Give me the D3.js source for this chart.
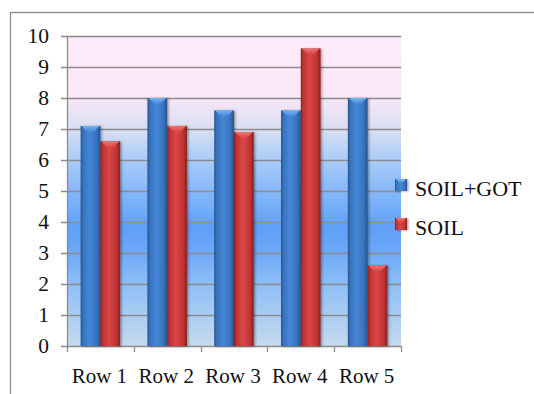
<!DOCTYPE html>
<html>
<head>
<meta charset="utf-8">
<script src="https://cdn.jsdelivr.net/npm/d3@7"></script>
<style>
  html, body { margin: 0; padding: 0; background: #fff; }
  svg { display: block; }
</style>
</head>
<body>
<svg id="chart" width="534" height="394"></svg>
<script>
// Chart data
const categories = ["Row 1", "Row 2", "Row 3", "Row 4", "Row 5"];
const seriesNames = ["SOIL+GOT", "SOIL"];
const soilGot = [7.1, 8, 7.6, 7.6, 8];
const soil = [6.6, 7.1, 6.9, 9.6, 2.6];
const yTicks = [0, 1, 2, 3, 4, 5, 6, 7, 8, 9, 10];

const seriesValues = [soilGot, soil];
const palette = {
  "SOIL+GOT": { dark: "#24528c", mid: "#3872be", light: "#4587d6", cap: "#7cbaf4" },
  "SOIL":     { dark: "#8a1e1e", mid: "#c03333", light: "#d94646", cap: "#f27a78" }
};
const FONT = "'Liberation Serif', 'Times New Roman', serif";

const svg = d3.select("#chart");
const defs = svg.append("defs");

// Outer frame (only the top and left edges fall inside the window)
svg.append("rect")
  .attr("x", 10.5).attr("y", 12.5)
  .attr("width", 700).attr("height", 600)
  .attr("fill", "none").attr("stroke", "#8a8a8a").attr("stroke-width", 1.3);

const plot = { left: 67, right: 401, top: 36, bottom: 346 };

const x0 = d3.scaleBand().domain(categories).range([plot.left, plot.right]).padding(0);
const x1 = d3.scaleBand().domain(seriesNames).range([0, x0.bandwidth()])
  .paddingInner(0).paddingOuter(0.69);
const y = d3.scaleLinear().domain([0, 10]).range([plot.bottom, plot.top]);

// Plot background gradient
const bg = defs.append("linearGradient").attr("id", "bg")
  .attr("x1", 0).attr("y1", 0).attr("x2", 0).attr("y2", 1);
[[0, "#fdeafa"], [0.19, "#fbe7f8"], [0.3, "#d9dff2"], [0.4, "#a9ccf8"],
 [0.5, "#86b8f9"], [0.62, "#5f9ff7"], [0.7, "#6ea9f8"], [0.8, "#8ebef7"],
 [0.9, "#a9cdf3"], [1, "#c6d9ee"]].forEach(([o, c]) =>
  bg.append("stop").attr("offset", o).attr("stop-color", c));

svg.append("rect")
  .attr("x", plot.left).attr("y", plot.top)
  .attr("width", plot.right - plot.left).attr("height", plot.bottom - plot.top)
  .attr("fill", "url(#bg)");

// Horizontal gridlines with left tick marks
svg.append("g").selectAll("line").data(yTicks).join("line")
  .attr("x1", plot.left - 6).attr("x2", plot.right)
  .attr("y1", d => Math.round(y(d)) + 0.5).attr("y2", d => Math.round(y(d)) + 0.5)
  .attr("stroke", "#8c8c8c").attr("stroke-width", 1.3);

// Y axis labels
svg.append("g").selectAll("text").data(yTicks).join("text")
  .attr("x", 49).attr("y", d => y(d))
  .attr("dy", "0.34em")
  .attr("text-anchor", "end")
  .attr("font-family", FONT)
  .attr("font-size", 21.5)
  .attr("fill", "#111")
  .text(d => d);

// Axis lines
svg.append("line")
  .attr("x1", plot.left + 0.5).attr("x2", plot.left + 0.5)
  .attr("y1", plot.top).attr("y2", plot.bottom)
  .attr("stroke", "#8c8c8c").attr("stroke-width", 1.3);

const catEdges = categories.map(c => x0(c)).concat([plot.right]);
svg.append("g").selectAll("line").data(catEdges).join("line")
  .attr("x1", d => Math.round(d) + 0.5).attr("x2", d => Math.round(d) + 0.5)
  .attr("y1", plot.bottom).attr("y2", plot.bottom + 6)
  .attr("stroke", "#8c8c8c").attr("stroke-width", 1.3);

// Cylinder-like shading for each series
seriesNames.forEach((s, i) => {
  const p = palette[s];
  const g = defs.append("linearGradient").attr("id", "bar" + i)
    .attr("x1", 0).attr("y1", 0).attr("x2", 1).attr("y2", 0);
  [[0, p.dark], [0.12, p.mid], [0.45, p.light], [0.82, p.mid], [1, p.dark]]
    .forEach(([o, c]) => g.append("stop").attr("offset", o).attr("stop-color", c));
  const cg = defs.append("linearGradient").attr("id", "cap" + i)
    .attr("x1", 0).attr("y1", 0).attr("x2", 0).attr("y2", 1);
  cg.append("stop").attr("offset", 0).attr("stop-color", p.cap);
  cg.append("stop").attr("offset", 1).attr("stop-color", p.light);
});

const shadow = defs.append("filter").attr("id", "shadow")
  .attr("x", "-30%").attr("y", "-10%").attr("width", "160%").attr("height", "120%");
shadow.append("feDropShadow").attr("dx", 1.5).attr("dy", 0.5)
  .attr("stdDeviation", 1.2).attr("flood-color", "#000").attr("flood-opacity", 0.35);

// Bars
const groups = svg.append("g").selectAll("g").data(categories).join("g")
  .attr("transform", c => `translate(${x0(c)},0)`);

groups.each(function(c, ci) {
  const g = d3.select(this);
  seriesNames.forEach((s, si) => {
    const v = seriesValues[si][ci];
    const bx = x1(s), bw = x1.bandwidth();
    const top = y(v);
    g.append("rect")
      .attr("x", bx).attr("y", top)
      .attr("width", bw).attr("height", y(0) - top)
      .attr("fill", `url(#bar${si})`)
      .attr("filter", "url(#shadow)");
    // bevelled cap at the top of the bar
    const capH = 6;
    g.append("path")
      .attr("d", `M${bx + 1},${top} L${bx + bw - 1},${top} L${bx + bw / 2 + 3},${top + capH} L${bx + bw / 2 - 3},${top + capH} Z`)
      .attr("fill", `url(#cap${si})`)
      .attr("opacity", 0.9);
  });
});

// Category labels
svg.append("g").selectAll("text").data(categories).join("text")
  .attr("x", c => x0(c) + x0.bandwidth() / 2 - 1)
  .attr("y", 383)
  .attr("text-anchor", "middle")
  .attr("font-family", FONT)
  .attr("font-size", 21)
  .attr("fill", "#111")
  .text(c => c);

// Legend
const legend = svg.append("g").selectAll("g").data(seriesNames).join("g")
  .attr("transform", (d, i) => `translate(395,${179 + i * 39})`);
legend.append("rect")
  .attr("width", 12).attr("height", 12)
  .attr("fill", (d, i) => `url(#bar${i})`)
  .attr("filter", "url(#shadow)");
legend.append("path")
  .attr("d", "M1,0 L11,0 L8,4 L4,4 Z")
  .attr("fill", (d, i) => `url(#cap${i})`);
legend.append("text")
  .attr("x", 20).attr("y", 16.7)
  .attr("font-family", FONT)
  .attr("font-size", 22)
  .attr("fill", "#111")
  .text(d => d);
</script>
</body>
</html>
